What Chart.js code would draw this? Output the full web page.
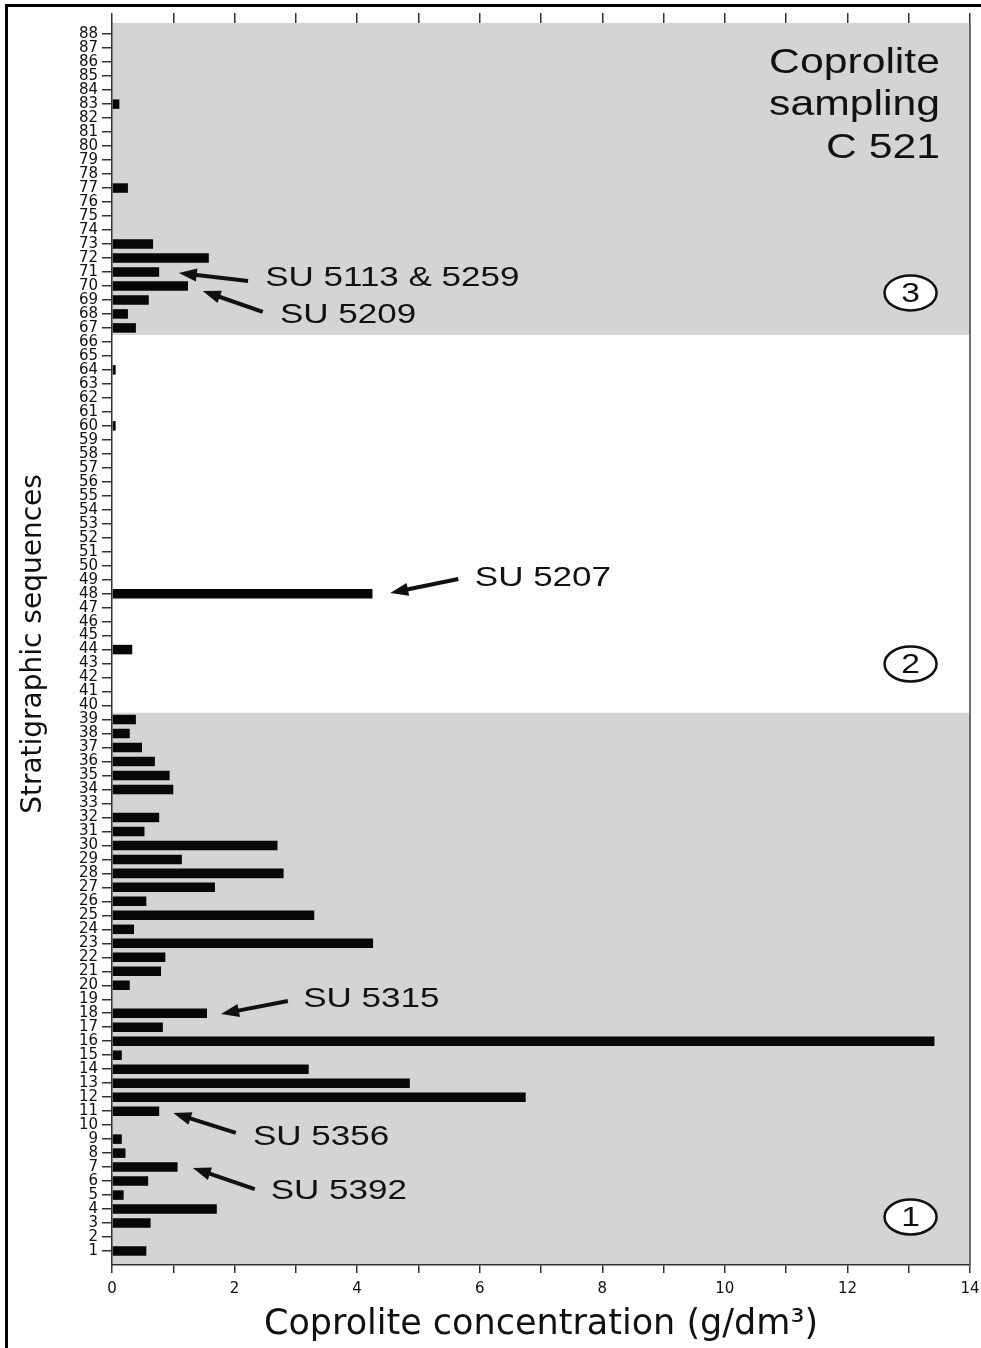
<!DOCTYPE html>
<html>
<head>
<meta charset="utf-8">
<title>Coprolite sampling C 521</title>
<script src="https://cdn.jsdelivr.net/npm/chart.js@4.4.1/dist/chart.umd.min.js"></script>
<style>
  html, body { margin: 0; padding: 0; background: #fff; }
  #wrap { position: relative; width: 981px; height: 1348px; }
  #frame { position: absolute; left: 5px; top: 4px; right: 0; bottom: 0;
           border-top: 3px solid #000; border-left: 3px solid #000; pointer-events: none; }
</style>
</head>
<body>
<div id="wrap">
  <canvas id="coproChart"></canvas>
  <div id="frame"></div>
</div>
<script>
// stratigraphic sequences (y) and coprolite concentration in g/dm3 (x)
const sequences = [
   1,  2,  3,  4,  5,  6,  7,  8,  9, 10, 11, 12, 13, 14, 15, 16, 17, 18, 19, 20, 21, 22,
  23, 24, 25, 26, 27, 28, 29, 30, 31, 32, 33, 34, 35, 36, 37, 38, 39, 40, 41, 42, 43, 44,
  45, 46, 47, 48, 49, 50, 51, 52, 53, 54, 55, 56, 57, 58, 59, 60, 61, 62, 63, 64, 65, 66,
  67, 68, 69, 70, 71, 72, 73, 74, 75, 76, 77, 78, 79, 80, 81, 82, 83, 84, 85, 86, 87, 88
];
const concentration = [
  0.56, 0,    0.63, 1.71, 0.19, 0.59, 1.07, 0.22, 0.16, 0,    0.77, 6.75, 4.86, 3.21, 0.16, 13.42, 0.83, 1.55, 0,    0.29, 0.80, 0.87,
  4.26, 0.36, 3.30, 0.56, 1.68, 2.80, 1.14, 2.70, 0.53, 0.77, 0,    1.00, 0.94, 0.70, 0.49, 0.29, 0.39, 0,    0,    0,    0,    0.33,
  0,    0,    0,    4.25, 0,    0,    0,    0,    0,    0,    0,    0,    0,    0,    0,    0.06, 0,    0,    0,    0.06, 0,    0,
  0.39, 0.26, 0.60, 1.24, 0.77, 1.58, 0.67, 0,    0,    0,    0.26, 0,    0,    0,    0,    0,    0.12, 0,    0,    0,    0,    0
];
const xLabelValues = [0, 2, 4, 6, 8, 10, 12, 14];

// zones 1-3 and their limits on the sequence axis
const zoneNames = ['1', '2', '3'];
const zoneLimits = [0, 39.5, 66.5, 88.8];
const zoneShaded = [true, false, true];

const suLabels = ['SU 5113 & 5259', 'SU 5209', 'SU 5207', 'SU 5315', 'SU 5356', 'SU 5392'];
const titleLines = ['Coprolite', 'sampling', 'C 521'];

// where the notes go, in data units [concentration, sequence]
const suPlacement = [
  { text: [2.50, 70.57], from: [2.22, 70.36], to: [1.09, 70.93] },
  { text: [2.74, 67.93], from: [2.46, 68.14], to: [1.48, 69.64] },
  { text: [5.92, 49.12], from: [5.65, 49.05], to: [4.54, 48.05] },
  { text: [3.12, 19.02], from: [2.87, 18.88], to: [1.78, 17.95] },
  { text: [2.30, 9.15],  from: [2.02, 9.44],  to: [1.00, 10.87] },
  { text: [2.59, 5.29],  from: [2.33, 5.43],  to: [1.32, 6.94] }
];
const zoneMarkAt = [[13.03, 3.43], [13.03, 42.97], [13.03, 69.5]];
const titleAt = [[13.51, 85.23], [13.51, 82.2], [13.51, 79.15]];

function stretchText(ctx, str, x, y, size, sx, align, baseline) {
  ctx.save();
  ctx.translate(x, y);
  ctx.scale(sx, 1);
  ctx.font = size + 'px "Liberation Sans", Arial, sans-serif';
  ctx.textAlign = align;
  ctx.textBaseline = baseline;
  ctx.fillText(str, 0, 0);
  ctx.restore();
}

function arrow(ctx, x0, y0, x1, y1) {
  const ang = Math.atan2(y1 - y0, x1 - x0);
  const head = 18, half = 6.5;
  const bx = x1 - head * Math.cos(ang), by = y1 - head * Math.sin(ang);
  ctx.lineWidth = 4;
  ctx.beginPath();
  ctx.moveTo(x0, y0);
  ctx.lineTo(bx + 2 * Math.cos(ang), by + 2 * Math.sin(ang));
  ctx.stroke();
  ctx.beginPath();
  ctx.moveTo(x1, y1);
  ctx.lineTo(bx + half * Math.sin(ang), by - half * Math.cos(ang));
  ctx.lineTo(bx - half * Math.sin(ang), by + half * Math.cos(ang));
  ctx.closePath();
  ctx.fill();
}

const decorations = {
  id: 'decorations',
  beforeDraw(chart) {
    const { ctx, chartArea: a, scales: { y } } = chart;
    ctx.save();
    zoneNames.forEach((n, i) => {
      const top = y.getPixelForValue(zoneLimits[i + 1]);
      const bot = y.getPixelForValue(zoneLimits[i]);
      ctx.fillStyle = zoneShaded[i] ? '#d4d4d4' : '#fdfdfd';
      ctx.fillRect(a.left, top, a.right - a.left, bot - top);
    });
    ctx.restore();
  },
  afterDatasetsDraw(chart) {
    const { ctx, chartArea: a, scales: { x, y } } = chart;
    const px = p => [x.getPixelForValue(p[0]), y.getPixelForValue(p[1])];
    ctx.save();
    ctx.strokeStyle = '#444';
    ctx.lineWidth = 1.5;
    ctx.beginPath();
    ctx.moveTo(a.right, a.top);
    ctx.lineTo(a.right, a.bottom);
    ctx.stroke();

    ctx.fillStyle = '#111';
    ctx.strokeStyle = '#111';
    titleLines.forEach((t, i) => {
      const [tx, ty] = px(titleAt[i]);
      stretchText(ctx, t, tx, ty, 35, 1.22, 'right', 'alphabetic');
    });

    suLabels.forEach((t, i) => {
      const p = suPlacement[i];
      const [tx, ty] = px(p.text);
      stretchText(ctx, t, tx, ty, 28, 1.25, 'left', 'middle');
      const [x0, y0] = px(p.from);
      const [x1, y1] = px(p.to);
      arrow(ctx, x0, y0, x1, y1);
    });

    zoneNames.forEach((n, i) => {
      const [cx, cy] = px(zoneMarkAt[i]);
      ctx.beginPath();
      ctx.ellipse(cx, cy, 26, 17.5, 0, 0, Math.PI * 2);
      ctx.fillStyle = '#fff';
      ctx.fill();
      ctx.lineWidth = 2.5;
      ctx.stroke();
      ctx.fillStyle = '#111';
      stretchText(ctx, n, cx, cy + 1, 28, 1.2, 'center', 'middle');
    });
    ctx.restore();
  }
};

const axisColor = '#333';

new Chart(document.getElementById('coproChart'), {
  type: 'bar',
  data: {
    datasets: [{
      label: 'Coprolite concentration',
      data: sequences.map((s, i) => ({ x: concentration[i], y: s })),
      backgroundColor: '#070707',
      borderWidth: 0,
      barPercentage: 0.68,
      categoryPercentage: 1
    }]
  },
  options: {
    indexAxis: 'y',
    responsive: true,
    maintainAspectRatio: false,
    animation: false,
    layout: { padding: { left: 0, right: 11, top: 0, bottom: 0 } },
    plugins: { legend: { display: false }, tooltip: { enabled: false } },
    scales: {
      x: {
        type: 'linear',
        position: 'bottom',
        min: 0,
        max: 14,
        afterFit: s => { s.height = 83; s.paddingLeft = 0; s.paddingRight = 0; },
        grid: { drawOnChartArea: false, drawTicks: true, tickLength: 8, color: axisColor, lineWidth: 1.5 },
        border: { display: true, color: axisColor, width: 1.5 },
        ticks: {
          stepSize: 1,
          autoSkip: false,
          maxRotation: 0,
          padding: 7,
          color: '#111',
          font: { family: '"DejaVu Sans", sans-serif', size: 15 },
          callback: v => xLabelValues.includes(v) ? String(v) : ''
        },
        title: {
          display: true,
          text: 'Coprolite concentration (g/dm³)',
          color: '#111',
          font: { family: '"DejaVu Sans", sans-serif', size: 35 },
          padding: { top: 0, bottom: 2 }
        }
      },
      x2: {
        type: 'linear',
        position: 'top',
        min: 0,
        max: 14,
        afterFit: s => { s.height = 23; s.paddingLeft = 0; s.paddingRight = 0; },
        grid: { drawOnChartArea: false, drawTicks: true, tickLength: 10, color: axisColor, lineWidth: 1.5 },
        border: { display: false },
        ticks: { stepSize: 1, display: false }
      },
      y: {
        type: 'linear',
        position: 'left',
        min: 0,
        max: 88.8,
        offset: false,
        afterFit: s => { s.width = 112; s.paddingTop = 0; s.paddingBottom = 0; },
        afterBuildTicks: s => { s.ticks = s.ticks.filter(t => t.value >= 1); },
        grid: { offset: false, drawOnChartArea: false, drawTicks: true, tickLength: 10, color: axisColor, lineWidth: 1.5 },
        border: { display: true, color: axisColor, width: 1.5 },
        ticks: {
          stepSize: 1,
          includeBounds: false,
          autoSkip: false,
          padding: 4,
          color: '#111',
          font: { family: '"DejaVu Sans", sans-serif', size: 15 }
        },
        title: {
          display: true,
          text: 'Stratigraphic sequences',
          color: '#111',
          font: { family: '"DejaVu Sans", sans-serif', size: 28 },
          padding: { top: 17, bottom: 0 }
        }
      }
    }
  },
  plugins: [decorations]
});
</script>
</body>
</html>
